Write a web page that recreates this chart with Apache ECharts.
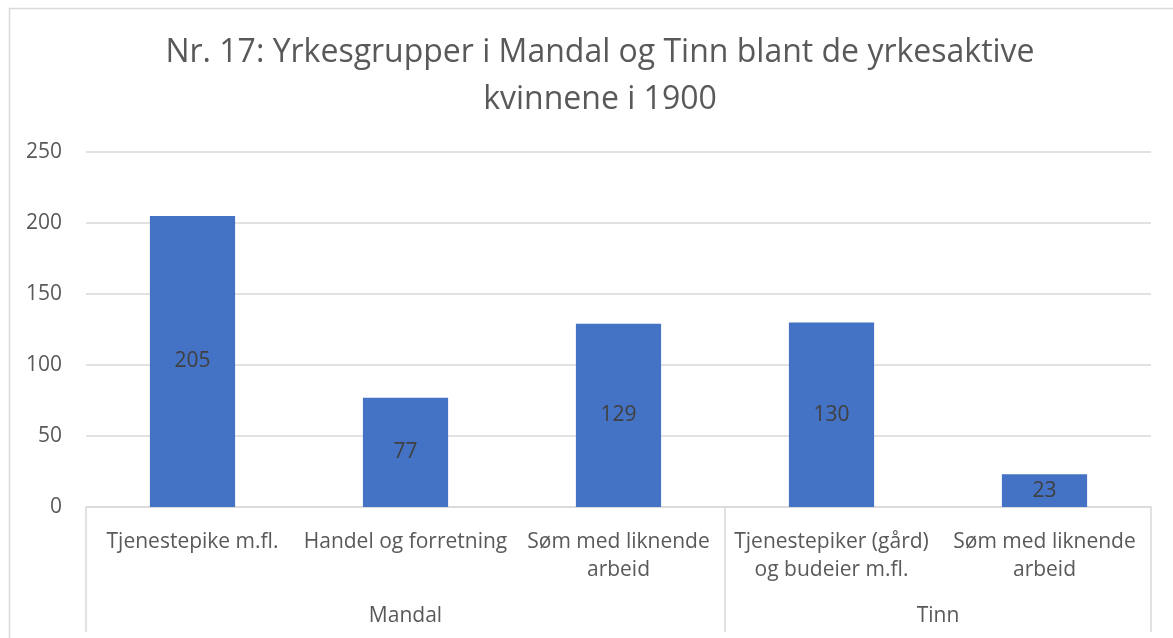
<!DOCTYPE html>
<html>
<head>
<meta charset="utf-8">
<script src="https://cdn.jsdelivr.net/npm/echarts@6/dist/echarts.min.js"></script>
<style>
html,body{margin:0;padding:0;background:#fff;}
#c{width:1173px;height:638px;}
</style>
</head>
<body>
<div id="c"></div>
<script>
const titleText = 'Nr. 17: Yrkesgrupper i Mandal og Tinn blant de yrkesaktive\nkvinnene i 1900';
const categories = ['Tjenestepike m.fl.', 'Handel og forretning', 'Søm med liknende\narbeid', 'Tjenestepiker (gård)\nog budeier m.fl.', 'Søm med liknende\narbeid'];
const values = [205, 77, 129, 130, 23];
const groups = ['Mandal', 'Tinn'];
const groupSizes = [3, 2];
const yTicks = [0, 50, 100, 150, 200, 250];

// half-slot axis for group labels and separators
const halfSlots = [];
const groupLabelIdx = {};
const sepIdx = new Set([0]);
let pos = 0;
groups.forEach((g, i) => {
  groupLabelIdx[pos + groupSizes[i]] = g;
  pos += groupSizes[i] * 2;
  sepIdx.add(pos);
});
for (let k = 0; k <= pos; k++) halfSlots.push(groupLabelIdx[k] || '');

const font = 'Open Sans';
const chart = echarts.init(document.getElementById('c'));
chart.setOption({
  animation: false,
  textStyle: {fontFamily: font},
  title: {
    text: titleText,
    left: 595,
    top: 24,
    textAlign: 'center',
    textStyle: {fontFamily: font, fontSize: 32, fontWeight: 'normal', color: '#595959', lineHeight: 47},
  },
  graphic: [{
    type: 'rect',
    shape: {x: 9.5, y: 8.5, width: 1200, height: 700},
    style: {fill: 'none', stroke: '#d9d9d9', lineWidth: 1.5},
    silent: true
  }],
  grid: {left: 86, right: 22, top: 152, bottom: 131},
  xAxis: [{
    type: 'category',
    data: categories,
    axisLine: {lineStyle: {color: '#d9d9d9', width: 1.5}},
    axisTick: {show: false},
    axisLabel: {interval: 0, color: '#595959', fontSize: 21, margin: 21, lineHeight: 28, fontFamily: font}
  }, {
    type: 'category',
    data: halfSlots,
    boundaryGap: false,
    position: 'bottom',
    axisLine: {show: false},
    axisTick: {show: true, length: 125, lineStyle: {color: '#d9d9d9', width: 1.5},
      interval: (i) => sepIdx.has(i)},
    axisLabel: {interval: (i, v) => v !== '', color: '#595959', fontSize: 21, margin: 99, fontFamily: font}
  }],
  yAxis: {
    type: 'value',
    min: yTicks[0],
    max: yTicks[yTicks.length - 1],
    interval: 50,
    axisLine: {show: false},
    axisTick: {show: false},
    axisLabel: {color: '#595959', fontSize: 21, margin: 24, fontFamily: font},
    splitLine: {lineStyle: {color: '#d9d9d9', width: 1.5}}
  },
  series: [{
    type: 'bar',
    data: values,
    xAxisIndex: 0,
    barWidth: '40%',
    itemStyle: {color: '#4472C4'},
    label: {show: true, position: 'inside', color: '#404040', fontSize: 21, fontFamily: font}
  }]
});
</script>
</body>
</html>
